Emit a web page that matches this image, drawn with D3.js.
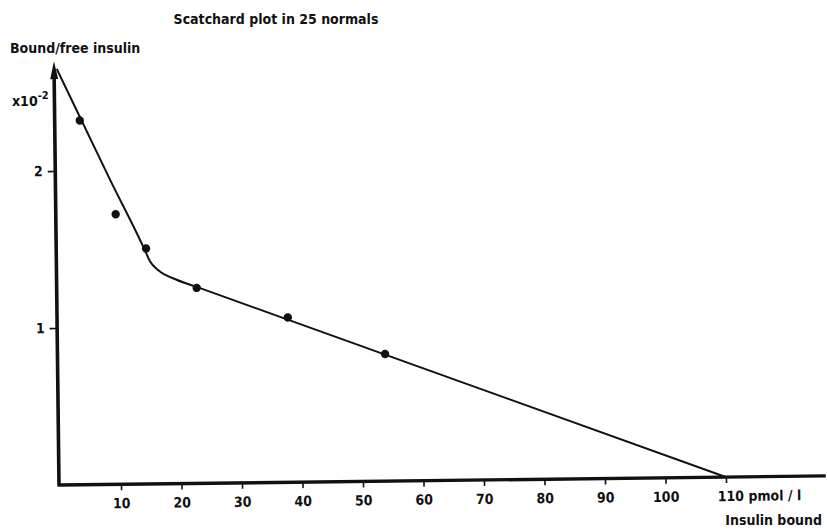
<!DOCTYPE html>
<html>
<head>
<meta charset="utf-8">
<script src="https://cdn.jsdelivr.net/npm/d3@7"></script>
<style>
  body { margin: 0; background: #fff; }
  svg { display: block; }
  text { font-family: "DejaVu Sans Condensed", "DejaVu Sans", sans-serif; font-stretch: condensed; fill: #111; }
</style>
</head>
<body>
<svg id="chart" width="827" height="530"></svg>
<script>
// Data (insulin bound, pmol/l ; bound/free x10^-2)
const pointX = [3.9, 9.65, 14.6, 22.9, 37.9, 53.9];
const pointY = [2.32, 1.72, 1.50, 1.245, 1.05, 0.81];
// Hand-drawn fitted curve (two-phase Scatchard line)
const curveX = [0.2, 8.8, 14.4, 15.2, 16.6, 19.5, 23, 110];
const curveY = [2.65, 1.94, 1.49, 1.42, 1.36, 1.30, 1.25, 0];
const xTicks = [10, 20, 30, 40, 50, 60, 70, 80, 90, 100, 110];
const yTicks = [1, 2];

const svg = d3.select("#chart");
const ox = 60.5, oy = 485;
const x = d3.scaleLinear().domain([0, 110]).range([ox, 726]);
const y = d3.scaleLinear().domain([0, 1]).range([oy, 328]);

// scanned page is slightly rotated
const g = svg.append("g").attr("transform", `rotate(-0.68 ${ox} ${oy})`);

// x axis
const xAxis = d3.axisBottom(x).tickValues(xTicks).tickSize(6).tickPadding(8)
  .tickFormat(d => d === 110 ? "110 pmol / l" : d);
const xg = g.append("g").attr("transform", `translate(0,${oy})`).call(xAxis);
xg.select(".domain").remove();
xg.selectAll(".tick line").attr("stroke", "#111").attr("stroke-width", 1.6);
xg.selectAll(".tick text").attr("font-size", 14).attr("fill", "#111")
  .attr("font-family", null).attr("font-weight", "bold");
xg.selectAll(".tick text").filter(d => d === 110).attr("text-anchor", "start").attr("dx", -9);

// y axis
const yAxis = d3.axisLeft(y).tickValues(yTicks).tickSize(7).tickPadding(5).tickFormat(d3.format("d"));
const yg = g.append("g").attr("transform", `translate(${ox - 2},0)`).call(yAxis);
yg.select(".domain").remove();
yg.selectAll(".tick line").attr("stroke", "#111").attr("stroke-width", 1.6);
yg.selectAll(".tick text").attr("font-size", 14).attr("fill", "#111").attr("font-family", null)
  .attr("font-weight", "bold");

// axis lines (thick)
g.append("line").attr("x1", ox - 1).attr("x2", x(126.5)).attr("y1", oy).attr("y2", oy)
  .attr("stroke", "#111").attr("stroke-width", 3.4);
g.append("line").attr("x1", ox - 1.5).attr("x2", ox - 1.5).attr("y1", oy + 1.5).attr("y2", y(2.62))
  .attr("stroke", "#111").attr("stroke-width", 3.6);
// arrow head
const tipY = y(2.7);
g.append("path")
  .attr("d", `M${ox - 1.5},${tipY} L${ox + 2.5},${tipY + 18} L${ox - 5.5},${tipY + 18} Z`)
  .attr("fill", "#111");

// fitted curve
const line = d3.line().x(d => x(d[0])).y(d => y(d[1])).curve(d3.curveMonotoneX);
g.append("path").datum(curveX.map((v, i) => [v, curveY[i]]))
  .attr("d", line).attr("fill", "none").attr("stroke", "#111").attr("stroke-width", 2);

// data points
g.selectAll("circle.pt").data(pointX.map((v, i) => [v, pointY[i]])).enter()
  .append("circle").attr("class", "pt")
  .attr("cx", d => x(d[0])).attr("cy", d => y(d[1])).attr("r", 4.2).attr("fill", "#111");

// labels (screen coordinates)
svg.append("text").attr("x", 276).attr("y", 24).attr("text-anchor", "middle")
  .attr("font-size", 14).attr("font-weight", "bold").text("Scatchard plot in 25 normals");
svg.append("text").attr("x", 10).attr("y", 53).attr("font-size", 14).attr("font-weight", "bold")
  .text("Bound/free insulin");
const sup = svg.append("text").attr("x", 12).attr("y", 106).attr("font-size", 14).attr("font-weight", "bold");
sup.append("tspan").text("x10");
sup.append("tspan").attr("dy", -7).attr("font-size", 11).text("-2");
svg.append("text").attr("x", 822).attr("y", 525).attr("text-anchor", "end")
  .attr("font-size", 14).attr("font-weight", "bold").text("Insulin bound");
</script>
</body>
</html>
